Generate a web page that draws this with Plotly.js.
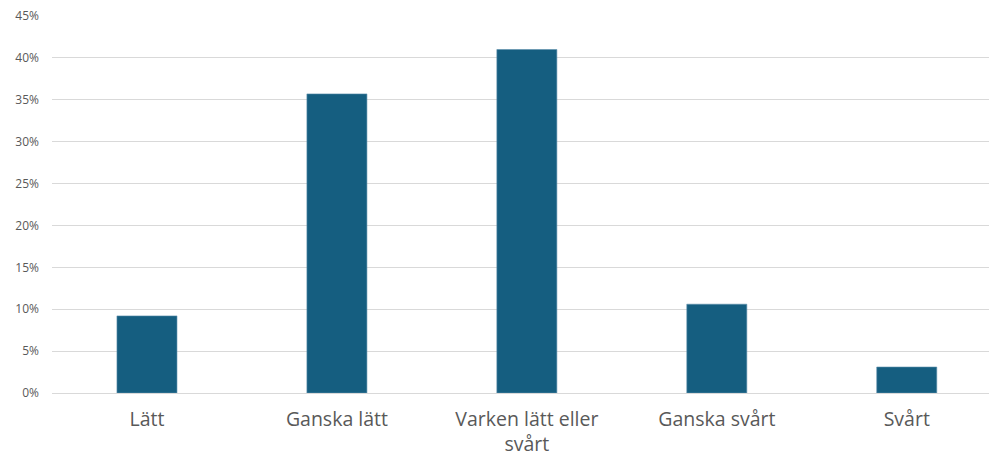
<!DOCTYPE html>
<html>
<head>
<meta charset="utf-8">
<script src="https://cdn.plot.ly/plotly-3.0.1.min.js"></script>
<style>html,body{margin:0;padding:0;background:#fff;}#chart{width:989px;height:454px;}</style>
</head>
<body>
<div id="chart"></div>
<script>
var categories = ["Lätt", "Ganska lätt", "Varken lätt eller svårt", "Ganska svårt", "Svårt"];
var tickLabels = ["Lätt", "Ganska lätt", "Varken lätt eller<br>svårt", "Ganska svårt", "Svårt"];
var values = [0.092, 0.357, 0.410, 0.106, 0.031];
var yTickVals = [0, 0.05, 0.10, 0.15, 0.20, 0.25, 0.30, 0.35, 0.40, 0.45];
var yTickText = ["0%", "5%", "10%", "15%", "20%", "25%", "30%", "35%", "40%", "45%"];

var trace = {
  type: 'bar',
  x: categories,
  y: values,
  marker: {color: '#155E80', line: {color: '#5d8fab', width: 0.6}},
  hoverinfo: 'none'
};

var layout = {
  width: 989, height: 454,
  margin: {l: 52, r: 0, t: 16, b: 61},
  paper_bgcolor: '#fff', plot_bgcolor: '#fff',
  bargap: 0.684,
  showlegend: false,
  font: {family: 'Open Sans, sans-serif', color: '#595959'},
  xaxis: {
    range: [-0.5, 4.433],
    tickmode: 'array', tickvals: categories, ticktext: tickLabels,
    tickfont: {size: 19.5, color: '#595959'},
    showgrid: false, showline: false, zeroline: false,
    ticks: '', ticklabelstandoff: 12, fixedrange: true
  },
  yaxis: {
    range: [0, 0.45],
    tickmode: 'array', tickvals: yTickVals, ticktext: yTickText,
    tickfont: {size: 12, color: '#595959'},
    showgrid: true, gridcolor: '#d9d9d9', gridwidth: 1,
    zeroline: true, zerolinecolor: '#d9d9d9', zerolinewidth: 1,
    showline: false, ticks: '', ticklabelstandoff: 12, fixedrange: true
  }
};

Plotly.newPlot('chart', [trace], layout, {staticPlot: true, displayModeBar: false});
</script>
</body>
</html>
